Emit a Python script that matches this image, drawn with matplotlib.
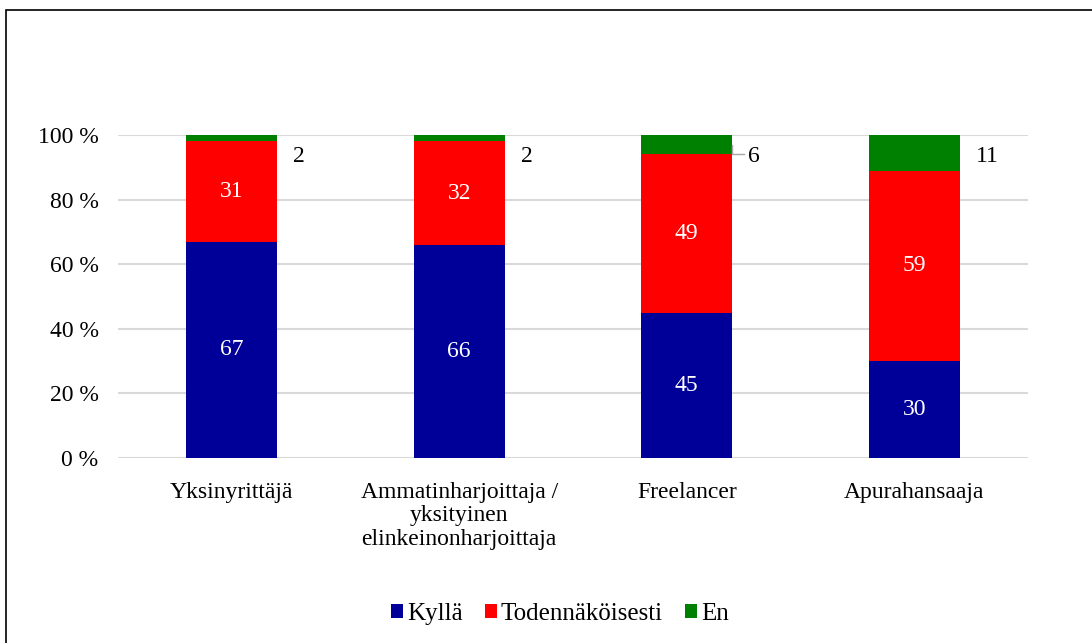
import numpy as np
import matplotlib.pyplot as plt
from matplotlib.patches import Rectangle

plt.rcParams['font.family'] = ['Liberation Serif', 'DejaVu Serif']

# Data
categories = ['Yksinyrittäjä', 'Ammatinharjoittaja /\nyksityinen\nelinkeinonharjoittaja',
              'Freelancer', 'Apurahansaaja']
kylla = [67, 66, 45, 30]
todennakoisesti = [31, 32, 49, 59]
en = [2, 2, 6, 11]
series_names = ['Kyllä', 'Todennäköisesti', 'En']
colors = ['#000099', '#FF0000', '#008000']

FS = 17

fig = plt.figure(figsize=(10.92, 6.43), dpi=100)
ax = fig.add_axes([118 / 1092, 1 - 458 / 643, 910 / 1092, 323 / 643])

x = np.arange(len(categories))
width = 0.4
bottom = np.zeros(len(categories))
for vals, name, col in zip([kylla, todennakoisesti, en], series_names, colors):
    bars = ax.bar(x, vals, width, bottom=bottom, color=col, label=name, zorder=3)
    if name != 'En':
        for b, v, b0 in zip(bars, vals, bottom):
            ax.text(b.get_x() + b.get_width() / 2, b0 + v / 2, str(v),
                    ha='center', va='center', color='white', fontsize=FS, zorder=4)
    else:
        for i, (v, b0) in enumerate(zip(vals, bottom)):
            ax.text(i + 0.27, 93.2, str(v), ha='left', va='center',
                    color='black', fontsize=FS, zorder=4)
    bottom += np.array(vals)

# leader line for the Freelancer "En" label
ax.plot([2 + width / 2, 2 + width / 2, 2 + width / 2 + 0.05],
        [96.8, 94.2, 94.2], color='#a6a6a6', lw=1, zorder=4, clip_on=False)

ax.set_xlim(-0.5, len(categories) - 0.5)
ax.set_ylim(0, 100)
ax.set_yticks(np.arange(0, 101, 20))
ax.set_yticklabels([f'{v} %' for v in range(0, 101, 20)], fontsize=FS)
ax.set_xticks(x)
ax.set_xticklabels(categories, fontsize=FS, linespacing=1.17)
ax.tick_params(axis='x', length=0, pad=17)
ax.tick_params(axis='y', length=0, pad=14)
ax.grid(axis='y', color='#d9d9d9', lw=1.5, zorder=0)
for s in ax.spines.values():
    s.set_visible(False)

fig.legend(loc='center', bbox_to_anchor=(560 / 1092, 1 - 614 / 643), ncol=3,
           frameon=False, fontsize=18, handlelength=0.48, handleheight=0.48,
           handletextpad=0.15, columnspacing=0.9)

# outer frame (left and top edges visible)
fig.patches.append(Rectangle((6 / 1092, -0.05), 1.2, 1 - 10 / 643 + 0.05,
                             transform=fig.transFigure, fill=False,
                             edgecolor='black', lw=1.2))

plt.savefig('out.png', dpi=100)
